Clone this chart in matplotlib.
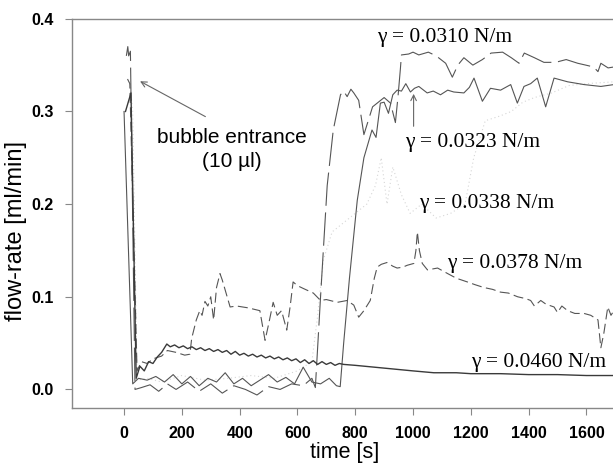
import matplotlib
matplotlib.use("Agg")
import matplotlib.pyplot as plt

plt.rcParams["font.family"] = ["Liberation Sans", "DejaVu Sans"]

# gamma = 0.0310 N/m (long dashes)
t_0310 = [8, 13, 16, 22, 38, 60, 90, 120, 150, 180, 220, 260, 300, 340, 380, 420, 460, 500, 540, 580,
          620, 650, 662, 680, 703, 724, 749, 760, 772, 785, 795, 812, 830, 860, 900, 922, 939, 948, 956, 960,
          985, 1000, 1020, 1053, 1080, 1113, 1136, 1155, 1176, 1207, 1240, 1270, 1310, 1340, 1367, 1385, 1420,
          1453, 1493, 1530, 1570, 1598, 1625, 1640, 1650, 1675, 1695]
q_0310 = [0.36, 0.37, 0.36, 0.365, 0.0, 0.002, 0.005, -0.002, 0.006, 0.0, 0.008, -0.002, 0.006, -0.004, 0.004,
          0.0, -0.006, 0.003, 0.0, 0.006, 0.004, 0.012, 0.002, 0.10, 0.22, 0.28, 0.318, 0.322, 0.316, 0.324,
          0.32, 0.312, 0.275, 0.305, 0.315, 0.309, 0.288, 0.316, 0.345, 0.361, 0.362, 0.364, 0.361, 0.364, 0.36,
          0.352, 0.337, 0.35, 0.358, 0.35, 0.356, 0.363, 0.364, 0.358, 0.352, 0.363, 0.358, 0.353, 0.353, 0.356,
          0.352, 0.35, 0.348, 0.343, 0.352, 0.347, 0.348]

# gamma = 0.0323 N/m (solid)
t_0323 = [0, 30, 50, 80, 110, 140, 170, 200, 230, 260, 290, 320, 350, 380, 410, 440, 470, 500, 530, 560,
          590, 620, 650, 680, 710, 735, 748, 760, 780, 807, 830, 858, 872, 887, 900, 915, 930, 945, 960, 975,
          991, 1005, 1020, 1049, 1070, 1095, 1120, 1141, 1176, 1195, 1211, 1240, 1268, 1303, 1338, 1361, 1384,
          1407, 1430, 1459, 1488, 1535, 1592, 1650, 1695]
q_0323 = [0.30, 0.006, 0.012, 0.01, 0.014, 0.008, 0.016, 0.006, 0.014, 0.004, 0.012, 0.008, 0.018, 0.006,
          0.012, 0.004, 0.01, 0.016, 0.008, 0.013, 0.006, 0.024, 0.008, 0.006, 0.012, 0.004, 0.003, 0.05, 0.12,
          0.204, 0.25, 0.28, 0.272, 0.309, 0.31, 0.298, 0.318, 0.323, 0.322, 0.33, 0.321, 0.325, 0.327, 0.32,
          0.322, 0.318, 0.323, 0.321, 0.32, 0.326, 0.336, 0.311, 0.325, 0.323, 0.329, 0.309, 0.327, 0.33, 0.336,
          0.305, 0.336, 0.332, 0.329, 0.327, 0.329]

# gamma = 0.0338 N/m (faint dots)
t_0338 = [20, 30, 45, 80, 130, 200, 280, 360, 440, 520, 600, 650, 670, 690, 720, 760, 800, 840, 870, 890,
          910, 930, 960, 990, 1030, 1080, 1130, 1180, 1210, 1250, 1300, 1340, 1380, 1420, 1480, 1540, 1600, 1695]
q_0338 = [0.33, 0.30, 0.01, 0.012, 0.008, 0.015, 0.01, 0.012, 0.015, 0.012, 0.02, 0.03, 0.08, 0.14, 0.17,
          0.18, 0.19, 0.2, 0.22, 0.25, 0.2, 0.24, 0.21, 0.19, 0.2, 0.185, 0.19, 0.2, 0.25, 0.29, 0.295, 0.3,
          0.31, 0.315, 0.32, 0.328, 0.33, 0.332]

# gamma = 0.0378 N/m (short dashes)
t_0378 = [12, 20, 45, 60, 80, 100, 130, 150, 180, 210, 228, 234, 250, 262, 270, 280, 290, 300, 310, 320,
          332, 340, 367, 390, 430, 470, 488, 500, 516, 530, 545, 563, 575, 585, 600, 620, 655, 680, 700, 738,
          772, 795, 812, 830, 852, 866, 876, 890, 910, 930, 945, 965, 980, 1003, 1010, 1015, 1022, 1032, 1050,
          1085, 1120, 1150, 1188, 1215, 1245, 1275, 1303, 1330, 1362, 1390, 1407, 1420, 1442, 1460, 1488, 1500,
          1515, 1535, 1560, 1592, 1615, 1640, 1650, 1660, 1674, 1685, 1695]
q_0378 = [0.335, 0.33, 0.02, 0.03, 0.028, 0.033, 0.036, 0.042, 0.04, 0.037, 0.038, 0.055, 0.075, 0.085, 0.08,
          0.095, 0.09, 0.1, 0.075, 0.11, 0.125, 0.118, 0.089, 0.09, 0.088, 0.085, 0.053, 0.07, 0.094, 0.08,
          0.085, 0.064, 0.09, 0.116, 0.112, 0.109, 0.104, 0.096, 0.097, 0.094, 0.096, 0.091, 0.078, 0.085,
          0.096, 0.12, 0.132, 0.135, 0.137, 0.133, 0.131, 0.132, 0.134, 0.136, 0.15, 0.17, 0.15, 0.136, 0.129,
          0.131, 0.125, 0.12, 0.116, 0.113, 0.11, 0.108, 0.105, 0.104, 0.1, 0.098, 0.096, 0.09, 0.096, 0.092,
          0.089, 0.083, 0.09, 0.085, 0.082, 0.082, 0.08, 0.075, 0.045, 0.06, 0.089, 0.08, 0.085]

# gamma = 0.0460 N/m (solid, noisy)
t_0460 = [5, 24, 42, 55, 70, 85, 100, 115, 130, 148, 160, 175, 190, 205, 220, 235, 250, 265, 280, 295,
          310, 325, 340, 355, 370, 385, 400, 415, 430, 445, 460, 475, 490, 505, 520, 535, 550, 565, 580, 595,
          610, 625, 640, 655, 670, 685, 700, 715, 730, 745, 760, 800, 900, 1000, 1072, 1150, 1200, 1303, 1400,
          1500, 1600, 1695]
q_0460 = [0.30, 0.32, 0.012, 0.025, 0.02, 0.03, 0.028, 0.035, 0.04, 0.049, 0.046, 0.048, 0.045, 0.047, 0.044,
          0.046, 0.043, 0.045, 0.042, 0.044, 0.041, 0.043, 0.04, 0.042, 0.038, 0.041, 0.037, 0.039, 0.036, 0.038,
          0.035, 0.037, 0.034, 0.036, 0.033, 0.035, 0.032, 0.034, 0.031, 0.033, 0.029, 0.032, 0.028, 0.031,
          0.027, 0.03, 0.027, 0.029, 0.026, 0.028, 0.027, 0.026, 0.023, 0.02, 0.018, 0.018, 0.017, 0.017, 0.016,
          0.016, 0.015, 0.015]

x_ticks = [0, 200, 400, 600, 800, 1000, 1200, 1400, 1600]
y_ticks = [0.0, 0.1, 0.2, 0.3, 0.4]

fig = plt.figure(figsize=(6.13, 4.70), dpi=100)
ax = fig.add_axes([0.1175, 0.132, 0.8825, 0.828])

ax.plot(t_0338, q_0338, color="#d6d6d6", lw=0.8, ls=(0, (1, 2.5)))
ax.plot(t_0378, q_0378, color="#555555", lw=0.8, ls=(0, (9, 4)))
ax.plot(t_0310, q_0310, color="#555555", lw=0.8, ls=(0, (30, 6)))
ax.plot(t_0323, q_0323, color="#555555", lw=0.8)
ax.plot(t_0460, q_0460, color="#3a3a3a", lw=1.0)

ax.set_xlim(-180, 1692)
ax.set_ylim(-0.02, 0.4)
ax.set_xticks(x_ticks)
ax.set_yticks(y_ticks)
ax.set_xticklabels([str(v) for v in x_ticks], fontweight="bold")
ax.set_yticklabels(["%.1f" % v for v in y_ticks], fontweight="bold")
ax.tick_params(direction="out", length=5, width=0.8, color="#888888",
               labelsize=11.5, pad=8)

for side in ["left", "bottom", "top"]:
    ax.spines[side].set_color("#888888")
    ax.spines[side].set_linewidth(1.0)
ax.spines["right"].set_visible(False)

ax.set_xlabel("time [s]", fontsize=15.5)
ax.set_ylabel("flow-rate [ml/min]", fontsize=17)
ax.xaxis.set_label_coords(0.503, -0.088)
ax.yaxis.set_label_coords(-0.083, 0.454)

# bubble entrance note
ax.annotate("", xy=(47, 0.334), xytext=(290, 0.293),
            arrowprops=dict(arrowstyle="->", color="#666666", lw=0.8))
ax.text(374, 0.259, "bubble entrance\n(10 µl)", ha="center", va="center",
        fontsize=15, linespacing=1.3)

serif = ["Liberation Serif", "DejaVu Serif"]
gsize = 15.5
ax.text(1110, 0.3795, "γ = 0.0310 N/m", ha="center", va="center", fontsize=gsize, family=serif)
ax.text(1206, 0.266, "γ = 0.0323 N/m", ha="center", va="center", fontsize=gsize, family=serif)
ax.annotate("", xy=(1002, 0.322), xytext=(1002, 0.281),
            arrowprops=dict(arrowstyle="->", color="#666666", lw=0.8))
ax.text(1255, 0.201, "γ = 0.0338 N/m", ha="center", va="center", fontsize=gsize, family=serif)
ax.text(1352, 0.136, "γ = 0.0378 N/m", ha="center", va="center", fontsize=gsize, family=serif)
ax.text(1435, 0.029, "γ = 0.0460 N/m", ha="center", va="center", fontsize=gsize, family=serif)

fig.savefig("out.png", dpi=100)
